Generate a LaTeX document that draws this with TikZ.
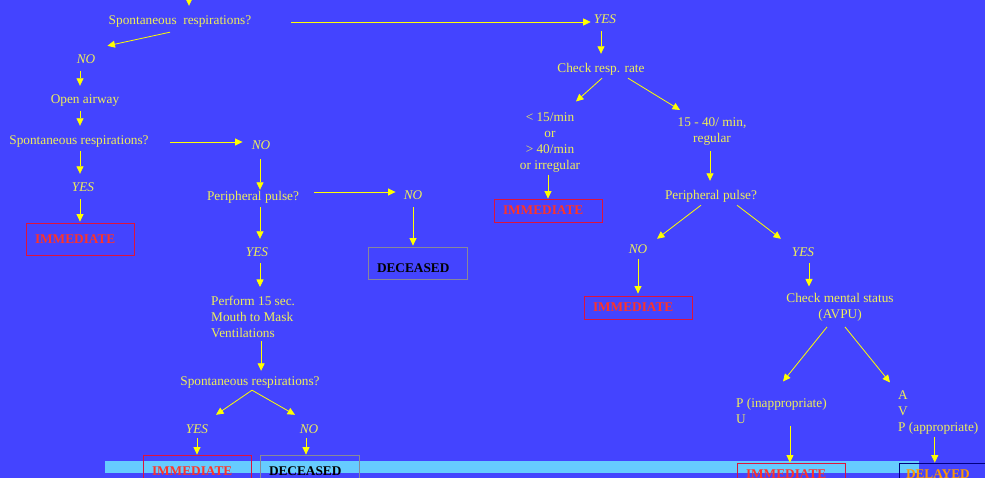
\documentclass[tikz,border=0pt]{standalone}
\usepackage{fontspec}
\setmainfont{Liberation Serif}
\usetikzlibrary{arrows.meta}

\definecolor{bgblue}{RGB}{68,68,255}
\definecolor{stripblue}{RGB}{102,204,255}
\definecolor{txtyellow}{RGB}{238,238,90}
\definecolor{arrowyellow}{RGB}{255,255,0}
\definecolor{redtext}{RGB}{255,51,40}
\definecolor{redline}{RGB}{220,20,60}
\definecolor{grayline}{RGB}{136,136,153}
\definecolor{navyline}{RGB}{0,0,128}
\definecolor{orangetext}{RGB}{255,153,0}
\newcommand{\chartfont}{\fontsize{13.3}{16}\selectfont}

\begin{document}
\begin{tikzpicture}[x=1pt,y=-1pt,
	txt/.style={text=txtyellow,font=\chartfont,inner sep=2pt,text height=9pt,text depth=3pt},
	ans/.style={txt,font=\chartfont\itshape},
	multi/.style={text=txtyellow,font=\chartfont,inner sep=2pt},
	outbox/.style={draw,line width=0.8pt,font=\chartfont\bfseries,inner xsep=9pt,inner ysep=0pt,text width=#1,align=left},
	imm/.style={outbox=90pt,draw=redline,text=redtext},
	dec/.style={outbox=81pt,draw=grayline,text=black},
	arr/.style={draw=arrowyellow,line width=0.8pt,-{Triangle[length=7.5pt,width=7pt]}}]
	\useasboundingbox (0,0) rectangle (985,478);
	\clip (0,0) rectangle (985,478);
	\fill[bgblue] (0,0) rectangle (985,478);
	\fill[stripblue] (105,461) rectangle (919,473);

	\coordinate (entry) at (189,-12);
	\node[txt] (sra) at (180,22)	{Spontaneous\ \ respirations?};
	\node[ans] (yesa) at (605,21)	{YES};
	\node[ans] (noa) at (86,61)	{NO};
	\node[txt] (oair) at (85,101)	{Open airway};
	\node[txt] (srb) at (79,142)	{Spontaneous respirations?};
	\node[ans] (nob) at (261,147)	{NO};
	\node[ans] (yesb) at (83,189)	{YES};
	\node[imm,minimum height=32pt] (imma) at (80,239)	{IMMEDIATE};
	\node[txt] (ppa) at (253,198)	{Peripheral pulse?};
	\node[ans] (noc) at (413,197)	{NO};
	\node[dec,minimum height=32pt,text height=19pt,text depth=0pt] (deca) at (417.5,263)	{DECEASED};
	\node[ans] (yesc) at (257,254)	{YES};
	\node[multi,align=left,anchor=north west] (perf) at (209,294)	{Perform 15 sec.\\Mouth to Mask\\Ventilations};
	\node[txt] (src) at (250,382)	{Spontaneous respirations?};
	\node[ans] (yesd) at (197,430)	{YES};
	\node[ans] (nod) at (309,430)	{NO};
	\node[imm,minimum height=32pt] (immb) at (197,471)	{IMMEDIATE};
	\node[dec,minimum height=32pt] (decb) at (309.5,471)	{DECEASED};

	\node[txt] (chk) at (601,70)	{Check resp. rate};
	\node[multi,align=center,anchor=north] (low) at (550,110.5)	{< 15/min\\or\\> 40/min\\or irregular};
	\node[multi,align=center,anchor=north] (reg) at (712,115)	{15 - 40/ min,\\regular};
	\node[imm,minimum height=23pt] (immc) at (548,210.5)	{IMMEDIATE};
	\node[txt] (ppb) at (711,197)	{Peripheral pulse?};
	\node[ans] (noe) at (638,251)	{NO};
	\node[imm,minimum height=23pt] (immd) at (638,307.5)	{IMMEDIATE};
	\node[ans] (yese) at (803,254)	{YES};
	\node[multi,align=center,anchor=north] (cms) at (840,291.5)	{Check mental status\\(AVPU)};
	\node[multi,align=left,anchor=north west] (pu) at (734,396.5)	{P (inappropriate)\\U};
	\node[multi,align=left,anchor=north west] (avp) at (896,388.5)	{A\\V\\P (appropriate)};
	\node[imm,minimum height=23pt] (imme) at (791,474.5)	{IMMEDIATE};
	\node[outbox=90pt,draw=navyline,text=orangetext,minimum height=23pt,inner xsep=7pt] (dela) at (951,474.5)	{DELAYED};

	\draw[arr,shorten >=8pt] (entry) -- (entry |- sra.north);
	\draw[arr,shorten <=38pt,shorten >=1pt] (sra.east) -- (sra.east -| yesa.west);
	\draw[arr] ([shift={(-10,2)}]sra.south) -- ([shift={(10,-7)}]noa.north east);
	\draw[arr,shorten <=2pt,shorten >=7pt] ([xshift=-6pt]noa.south) -- ([xshift=-6pt]noa.south |- oair.north);
	\draw[arr,shorten <=2pt,shorten >=8pt] ([xshift=-5pt]oair.south) -- ([xshift=-5pt]oair.south |- srb.north);
	\draw[arr,shorten <=19pt,shorten >=7pt] (srb.east) -- (srb.east -| nob.west);
	\draw[arr,shorten <=1pt,shorten >=7pt] ([xshift=1pt]srb.south) -- ([xshift=1pt]srb.south |- yesb.north);
	\draw[arr,shorten <=2pt,shorten >=1pt] ([xshift=-3pt]yesb.south) -- ([xshift=-3pt]yesb.south |- imma.north);
	\draw[arr,shorten <=4pt] ([xshift=-1pt]nob.south) -- ([xshift=-1pt]nob.south |- ppa.north);
	\draw[arr,shorten <=13pt,shorten >=6pt] ([yshift=6pt]ppa.east) -- ([yshift=6pt]ppa.east -| noc.west);
	\draw[arr,shorten <=2pt,shorten >=1pt] (noc.south) -- (noc.south |- deca.north);
	\draw[arr,shorten <=1pt,shorten >=7pt] ([xshift=7pt]ppa.south) -- ([xshift=7pt]ppa.south |- yesc.north);
	\draw[arr,shorten <=1pt,shorten >=7pt] ([xshift=3pt]yesc.south) -- ([xshift=3pt]yesc.south |- perf.north);
	\draw[arr,shorten <=1pt,shorten >=3pt] ([xshift=8pt]perf.south) -- ([xshift=8pt]perf.south |- src.north);
	\draw[arr] ([xshift=2pt]src.south) -- ([shift={(19,-7)}]yesd.north);
	\draw[arr] ([xshift=2pt]src.south) -- ([shift={(-14,-7)}]nod.north);
	\draw[arr] (yesd.south) -- (yesd.south |- immb.north);
	\draw[arr] ([xshift=-3pt]nod.south) -- ([xshift=-3pt]nod.south |- decb.north);

	\draw[arr,shorten <=2pt,shorten >=8pt] ([xshift=-4pt]yesa.south) -- ([xshift=-4pt]yesa.south |- chk.north);
	\draw[arr] ([xshift=1pt]chk.south) -- ([shift={(26,-9)}]low.north);
	\draw[arr] ([xshift=27pt]chk.south) -- ([shift={(-32,-5)}]reg.north);
	\draw[arr] ([xshift=-2pt]low.south) -- ([xshift=-2pt]low.south |- immc.north);
	\draw[arr,shorten <=4pt,shorten >=8pt] ([xshift=-2pt]reg.south) -- ([xshift=-2pt]reg.south |- ppb.north);
	\draw[arr] ([xshift=-10pt]ppb.south) -- ([shift={(19,-4)}]noe.north);
	\draw[arr] ([xshift=26pt]ppb.south) -- ([shift={(-22,-7)}]yese.north);
	\draw[arr,shorten >=2pt] (noe.south) -- (noe.south |- immd.north);
	\draw[arr,shorten <=1pt,shorten >=5pt] ([xshift=6pt]yese.south) -- ([xshift=6pt]yese.south |- cms.north);
	\draw[arr] ([shift={(-13,3)}]cms.south) -- ([shift={(49,-15)}]pu.north west);
	\draw[arr] ([shift={(5,3)}]cms.south) -- ([shift={(-6,-6)}]avp.north west);
	\draw[arr] ([xshift=8.5pt]pu.south) -- ([xshift=8.5pt]pu.south |- imme.north);
	\draw[arr] ([xshift=-3.5pt]avp.south) -- ([xshift=-3.5pt]avp.south |- dela.north);
\end{tikzpicture}
\end{document}
